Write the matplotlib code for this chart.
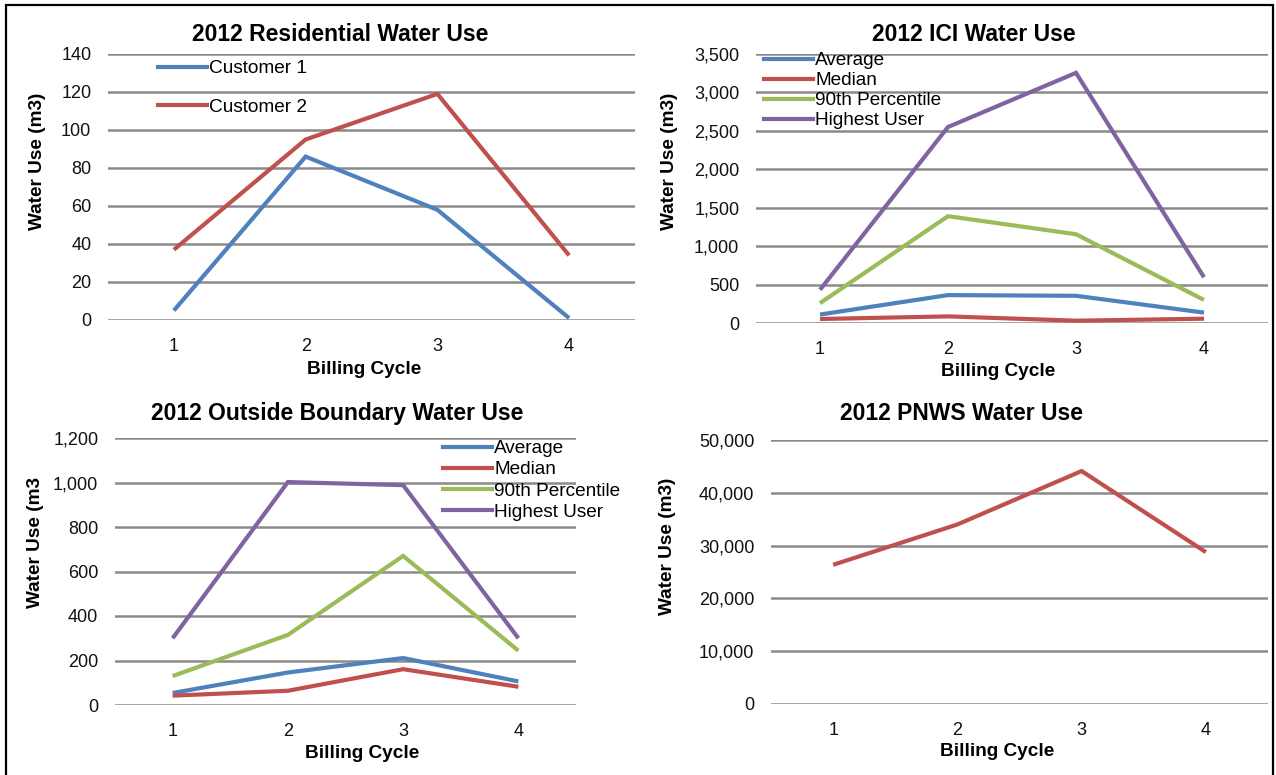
import matplotlib
matplotlib.use("Agg")
import matplotlib.pyplot as plt
from matplotlib.ticker import FuncFormatter
from matplotlib.lines import Line2D

plt.rcParams['font.family'] = ['Liberation Sans', 'DejaVu Sans']

cycles = [1, 2, 3, 4]

# residential
cust1 = [5, 86, 58, 1]
cust2 = [37, 95, 119, 34]

# ICI
ici_avg = [110, 363, 354, 135]
ici_med = [52, 86, 30, 56]
ici_p90 = [258, 1390, 1155, 300]
ici_high = [432, 2550, 3255, 595]

# outside boundary
ob_avg = [54, 146, 211, 106]
ob_med = [42, 64, 161, 82]
ob_p90 = [130, 315, 670, 244]
ob_high = [300, 1002, 988, 300]

# PNWS
pnws = [26360, 34000, 44120, 28760]

BLUE = '#4F81BD'
RED = '#C0504D'
GREEN = '#9BBB59'
PURPLE = '#8064A2'
GRID = '#8A8A8A'

W, H = 1276, 775
fig = plt.figure(figsize=(W / 100, H / 100), dpi=100)


def box(x0, y0, x1, y1):
    # pixel box (top-left origin) -> figure fraction rect
    return [x0 / W, 1 - y1 / H, (x1 - x0) / W, (y1 - y0) / H]


def fx(x):
    return x / W


def fy(y):
    return 1 - y / H


comma = FuncFormatter(lambda v, p: f"{int(v):,}")


def style(ax, ymax, step, fmt=None):
    ax.set_xlim(0.5, 4.5)
    ax.set_ylim(0, ymax)
    ax.set_xticks(cycles)
    ax.set_yticks(range(0, ymax + 1, step))
    if fmt is not None:
        ax.yaxis.set_major_formatter(fmt)
    for s in ax.spines.values():
        s.set_visible(False)
    ax.yaxis.grid(True, color=GRID, linewidth=1.8)
    ax.set_axisbelow(True)
    ax.tick_params(length=0, labelsize=13, colors='#111111')
    ax.tick_params(axis='x', pad=13)
    ax.tick_params(axis='y', pad=12)


def lines(ax, series):
    for ys, c in series:
        ax.plot(cycles, ys, color=c, linewidth=3.0, solid_capstyle='butt',
                solid_joinstyle='miter', clip_on=False)


def legend(ax, labels, colors, x, y, spacing):
    handles = [Line2D([], [], color=c, linewidth=3.0) for c in colors]
    ax.legend(handles, labels, loc='upper left', bbox_to_anchor=(fx(x), fy(y)),
              bbox_transform=fig.transFigure, frameon=False, fontsize=13.7,
              handlelength=2.6, handletextpad=0.1, labelspacing=spacing,
              borderpad=0, borderaxespad=0)


TF = dict(fontsize=16.5, fontweight='bold', ha='center', va='baseline')
LF = dict(fontsize=13.7, fontweight='bold', ha='center', va='center')

# 2012 Residential Water Use
ax1 = fig.add_axes(box(108, 54, 635, 320))
style(ax1, 140, 20)
lines(ax1, [(cust1, BLUE), (cust2, RED)])
legend(ax1, ['Customer 1', 'Customer 2'], [BLUE, RED], 158, 60, 1.13)
fig.text(fx(340), fy(41), '2012 Residential Water Use', **TF)
fig.text(fx(38), fy(161), 'Water Use (m3)', rotation=90, **LF)
fig.text(fx(364), fy(370), 'Billing Cycle', **LF)

# 2012 ICI Water Use
ax2 = fig.add_axes(box(756, 54, 1268, 323))
style(ax2, 3500, 500, comma)
lines(ax2, [(ici_avg, BLUE), (ici_med, RED), (ici_p90, GREEN), (ici_high, PURPLE)])
legend(ax2, ['Average', 'Median', '90th Percentile', 'Highest User'],
       [BLUE, RED, GREEN, PURPLE], 764, 52, 0.14)
fig.text(fx(974), fy(41), '2012 ICI Water Use', **TF)
fig.text(fx(670), fy(161), 'Water Use (m3)', rotation=90, **LF)
fig.text(fx(998), fy(372), 'Billing Cycle', **LF)

# 2012 Outside Boundary Water Use
ax3 = fig.add_axes(box(115, 438, 576, 705))
style(ax3, 1200, 200, comma)
lines(ax3, [(ob_avg, BLUE), (ob_med, RED), (ob_p90, GREEN), (ob_high, PURPLE)])
legend(ax3, ['Average', 'Median', '90th Percentile', 'Highest User'],
       [BLUE, RED, GREEN, PURPLE], 443, 440, 0.2)
fig.text(fx(337), fy(420), '2012 Outside Boundary Water Use', **TF)
fig.text(fx(35), fy(543), 'Water Use (m3', rotation=90, **LF)
fig.text(fx(362), fy(754), 'Billing Cycle', **LF)

# 2012 PNWS Water Use
ax4 = fig.add_axes(box(771, 440, 1268, 704))
style(ax4, 50000, 10000, comma)
lines(ax4, [(pnws, RED)])
fig.text(fx(961), fy(420), '2012 PNWS Water Use', **TF)
fig.text(fx(668), fy(546), 'Water Use (m3)', rotation=90, **LF)
fig.text(fx(997), fy(751), 'Billing Cycle', **LF)

# outer frame
fig.add_artist(plt.Rectangle((fx(6), fy(790)), fx(1267), fy(5) - fy(790),
                             transform=fig.transFigure, fill=False,
                             edgecolor='black', linewidth=1.6))

fig.savefig('out.png', dpi=100)
